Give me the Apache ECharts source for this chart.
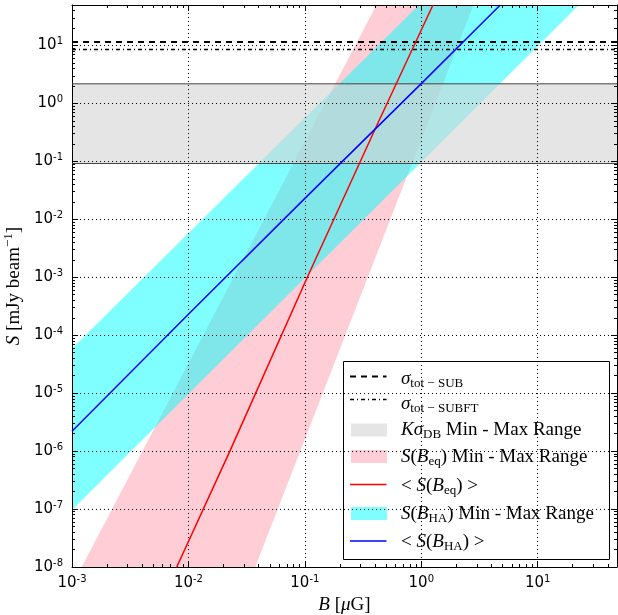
<!DOCTYPE html>
<html><head><meta charset="utf-8">
<script src="https://cdn.jsdelivr.net/npm/echarts@6/dist/echarts.min.js"></script>
<style>html,body{margin:0;padding:0;background:#fff}#c{width:618px;height:615px}</style>
</head><body><div id="c"></div>
<script>
// ---- axes ----
const xRange = [1e-3, 48];
const yRange = [1e-8, 50];
const xTickValues = [1e-3, 1e-2, 1e-1, 1, 10];
const xTickExp = ['-3', '-2', '-1', '0', '1'];
const yTickValues = [1e-8, 1e-7, 1e-6, 1e-5, 1e-4, 1e-3, 1e-2, 1e-1, 1, 10];
const yTickExp = ['-8', '-7', '-6', '-5', '-4', '-3', '-2', '-1', '0', '1'];

// ---- horizontal levels (mJy/beam) ----
const sigmaSUB = 11.5;
const sigmaSUBFT = 8.5;
const kSigmaDB = [0.092, 2.18];   // min, max

// ---- <S(B_eq)> ----
const eqMeanB = [0.00794, 0.0227, 0.105, 0.411, 1.26];
const eqMeanS = [1e-8, 1e-6, 1e-3, 0.40, 50];
// S(B_eq) min-max band (polygon vertices)
const eqBandB = [0.00121, 0.412, 2.81, 0.0375];
const eqBandS = [1e-8, 50, 50, 1e-8];

// ---- <S(B_HA)> ----
const haMeanB = [1e-3, 1e-2, 0.1, 1, 4.77];
const haMeanS = [2.2e-6, 2.3e-4, 0.023, 2.2, 50];
// S(B_HA) min-max band (polygon vertices)
const haBandB = [1e-3, 0.953, 22.6, 1e-3];
const haBandS = [5.9e-5, 50, 50, 9.6e-8];

// minor tick positions (2..9 x each decade)
function minorTicks(range) {
  const out = [];
  for (let d = Math.floor(Math.log10(range[0])); d <= Math.ceil(Math.log10(range[1])); d++) {
    for (let k = 2; k <= 9; k++) {
      const v = k * Math.pow(10, d);
      if (v > range[0] && v < range[1]) out.push(+v.toPrecision(6));
    }
  }
  return out;
}

const TICKFONT = 'DejaVu Sans';
const SERIF = 'Liberation Serif';

function tickFormatter(values, exps) {
  return function (v) {
    for (let i = 0; i < values.length; i++) {
      if (Math.abs(Math.log10(v) - Math.log10(values[i])) < 1e-6) return '{b|10}{s|' + exps[i] + '}';
    }
    return '';
  };
}
const tickRich = {
  b: { fontFamily: TICKFONT, fontSize: 15, color: '#000' },
  s: { fontFamily: TICKFONT, fontSize: 10, color: '#000', padding: [0, 0, 8, 0] }
};

function makeAxis(kind, range, pos, opts) {
  const a = {
    type: 'log', logBase: 10, min: range[0], max: range[1], interval: 1,
    position: pos, gridIndex: 0,
    axisLine: { show: false },
    axisTick: { show: true, inside: true, length: opts.minor ? 3 : 6, lineStyle: { color: '#000', width: 1 } },
    axisLabel: { show: false },
    splitLine: { show: false },
    minorTick: { show: false }, minorSplitLine: { show: false }
  };
  if (opts.minor) a.axisTick.customValues = minorTicks(range);
  if (opts.line) a.axisLine = { show: true, onZero: false, lineStyle: { color: '#000', width: 1 } };
  if (opts.labels) {
    a.axisLabel = {
      show: true, margin: opts.margin, formatter: tickFormatter(opts.values, opts.exps), rich: tickRich,
      showMinLabel: true, showMaxLabel: true, hideOverlap: false
    };
    a.splitLine = { show: true, lineStyle: { color: '#000', width: 1, type: [1, 3] } };
  }
  return Object.assign(a, opts.extra || {});
}

function band(name, Bs, Ss, fill, z) {
  return {
    type: 'custom', name: name, coordinateSystem: 'cartesian2d', xAxisIndex: 0, yAxisIndex: 0,
    z: z, silent: true, animation: false,
    data: Bs.map((b, i) => [b, Ss[i]]),
    renderItem: function (params, api) {
      if (params.dataIndex !== 0) return null;
      const pts = Bs.map((b, i) => api.coord([b, Ss[i]]));
      const cs = params.coordSys;
      return {
        type: 'polygon', shape: { points: pts }, style: { fill: fill, stroke: null },
        clipPath: { type: 'rect', shape: { x: cs.x, y: cs.y, width: cs.width, height: cs.height } }
      };
    }
  };
}

function hline(name, v, color, width, type, z) {
  return {
    type: 'line', name: name, xAxisIndex: 0, yAxisIndex: 0, z: z, silent: true,
    showSymbol: false, symbol: 'none', animation: false,
    data: [[xRange[0], v], [xRange[1], v]],
    lineStyle: { color: color, width: width, type: type }
  };
}
function curve(name, Bs, Ss, color) {
  return {
    type: 'line', name: name, xAxisIndex: 0, yAxisIndex: 0, z: 5, silent: true,
    showSymbol: false, symbol: 'none', animation: false, clip: true,
    data: Bs.map((b, i) => [b, Ss[i]]),
    lineStyle: { color: color, width: 1.5 }
  };
}

const grayFill = 'rgba(211,211,211,0.6)';
const pinkFill = 'rgba(255,192,203,0.8)';
const cyanFill = 'rgba(0,255,255,0.5)';

const grayBandB = [xRange[0], xRange[1], xRange[1], xRange[0]];
const grayBandS = [kSigmaDB[0], kSigmaDB[0], kSigmaDB[1], kSigmaDB[1]];

// ---- legend (drawn as graphic) ----
const LX = 343.5, LY = 361.5, LW = 266, LH = 198;
const lr = {
  r: { fontFamily: SERIF, fontSize: 19, fill: '#000', color: '#000' },
  i: { fontFamily: SERIF, fontSize: 19, fontStyle: 'italic', fill: '#000', color: '#000' },
  s: { fontFamily: SERIF, fontSize: 13, fill: '#000', color: '#000', padding: [9, 0, 0, 0] },
  ss: { fontFamily: SERIF, fontSize: 13, fill: '#000', color: '#000', padding: [9, 0, 0, 0] }
};
const legendRows = [
  { kind: 'line', y: 376.5, color: '#000', width: 2, dash: [6, 5], text: '{i|σ}{s|tot − SUB}', ty: 379 },
  { kind: 'line', y: 399.5, color: '#000', width: 1.5, dash: [4, 3, 1, 3], text: '{i|σ}{s|tot − SUBFT}', ty: 404 },
  { kind: 'patch', y: 430, color: grayFill, text: '{i|Kσ}{ss|DB}{r| Min - Max Range}', ty: 430 },
  { kind: 'patch', y: 456.5, color: pinkFill, text: '{i|S}{r|(}{i|B}{s|eq}{r|) Min - Max Range}', ty: 457 },
  { kind: 'line', y: 484.5, color: '#ff0000', width: 1.5, dash: null, text: '{r|< }{i|S}{r|(}{i|B}{s|eq}{r|) >}', ty: 486 },
  { kind: 'patch', y: 513.5, color: cyanFill, text: '{i|S}{r|(}{i|B}{s|HA}{r|) Min - Max Range}', ty: 514 },
  { kind: 'line', y: 541, color: '#0000ff', width: 1.5, dash: null, text: '{r|< }{i|S}{r|(}{i|B}{s|HA}{r|) >}', ty: 542 }
];
const legendEls = [{
  type: 'rect', shape: { x: LX, y: LY, width: LW, height: LH },
  style: { fill: '#fff', stroke: '#000', lineWidth: 1 }
}];
legendRows.forEach(r => {
  if (r.kind === 'line') {
    legendEls.push({ type: 'line', shape: { x1: 350, y1: r.y, x2: 386.5, y2: r.y },
      style: { stroke: r.color, lineWidth: r.width, lineDash: r.dash } });
  } else {
    legendEls.push({ type: 'rect', shape: { x: 351, y: r.y - 6.5, width: 36, height: 13 },
      style: { fill: r.color } });
  }
  legendEls.push({ type: 'text', x: 401, y: r.ty,
    style: { text: r.text, rich: lr, verticalAlign: 'middle', align: 'left', fill: '#000' } });
});

const chart = echarts.init(document.getElementById('c'), null, { renderer: 'canvas' });
chart.setOption({
  animation: false,
  backgroundColor: '#fff',
  grid: { left: 72, top: 5, right: 1, bottom: 48, containLabel: false, outerBoundsMode: 'none' },
  xAxis: [
    makeAxis('x', xRange, 'bottom', { line: true, labels: true, margin: 7, values: xTickValues, exps: xTickExp,
      extra: { name: '{i|B}{r| [}{i|μ}{r|G]}', nameLocation: 'middle', nameGap: 27,
        nameTextStyle: { rich: {
          r: { fontFamily: SERIF, fontSize: 19, color: '#000' },
          i: { fontFamily: SERIF, fontSize: 19, fontStyle: 'italic', color: '#000' } } } } }),
    makeAxis('x', xRange, 'bottom', { minor: true }),
    makeAxis('x', xRange, 'top', { line: true }),
    makeAxis('x', xRange, 'top', { minor: true })
  ],
  yAxis: [
    makeAxis('y', yRange, 'left', { line: true, labels: true, margin: 9, values: yTickValues, exps: yTickExp,
      extra: { name: '{i|S}{r| [mJy beam}{p|−1}{r|]}', nameLocation: 'middle', nameGap: 44, nameRotate: 90,
        nameTextStyle: { rich: {
          r: { fontFamily: SERIF, fontSize: 19, color: '#000' },
          i: { fontFamily: SERIF, fontSize: 19, fontStyle: 'italic', color: '#000' },
          p: { fontFamily: SERIF, fontSize: 13, color: '#000', padding: [0, 0, 9, 0] } } } } }),
    makeAxis('y', yRange, 'left', { minor: true }),
    makeAxis('y', yRange, 'right', { line: true }),
    makeAxis('y', yRange, 'right', { minor: true })
  ],
  series: [
    band('S(B_eq) Min - Max Range', eqBandB, eqBandS, pinkFill, -3),
    band('S(B_HA) Min - Max Range', haBandB, haBandS, cyanFill, -2),
    band('Kσ_DB Min - Max Range', grayBandB, grayBandS, grayFill, -1),
    hline('Kσ_DB low', kSigmaDB[0], '#444', 1, 'solid', 3),
    hline('Kσ_DB high', kSigmaDB[1], '#444', 1, 'solid', 3),
    hline('σ_tot-SUB', sigmaSUB, '#000', 2, [6, 5], 4),
    hline('σ_tot-SUBFT', sigmaSUBFT, '#000', 1.5, [4, 3, 1, 3], 4),
    curve('<S(B_eq)>', eqMeanB, eqMeanS, '#ff0000'),
    curve('<S(B_HA)>', haMeanB, haMeanS, '#0000ff')
  ],
  graphic: [{ type: 'group', z: 100, children: legendEls }]
});
</script></body></html>
